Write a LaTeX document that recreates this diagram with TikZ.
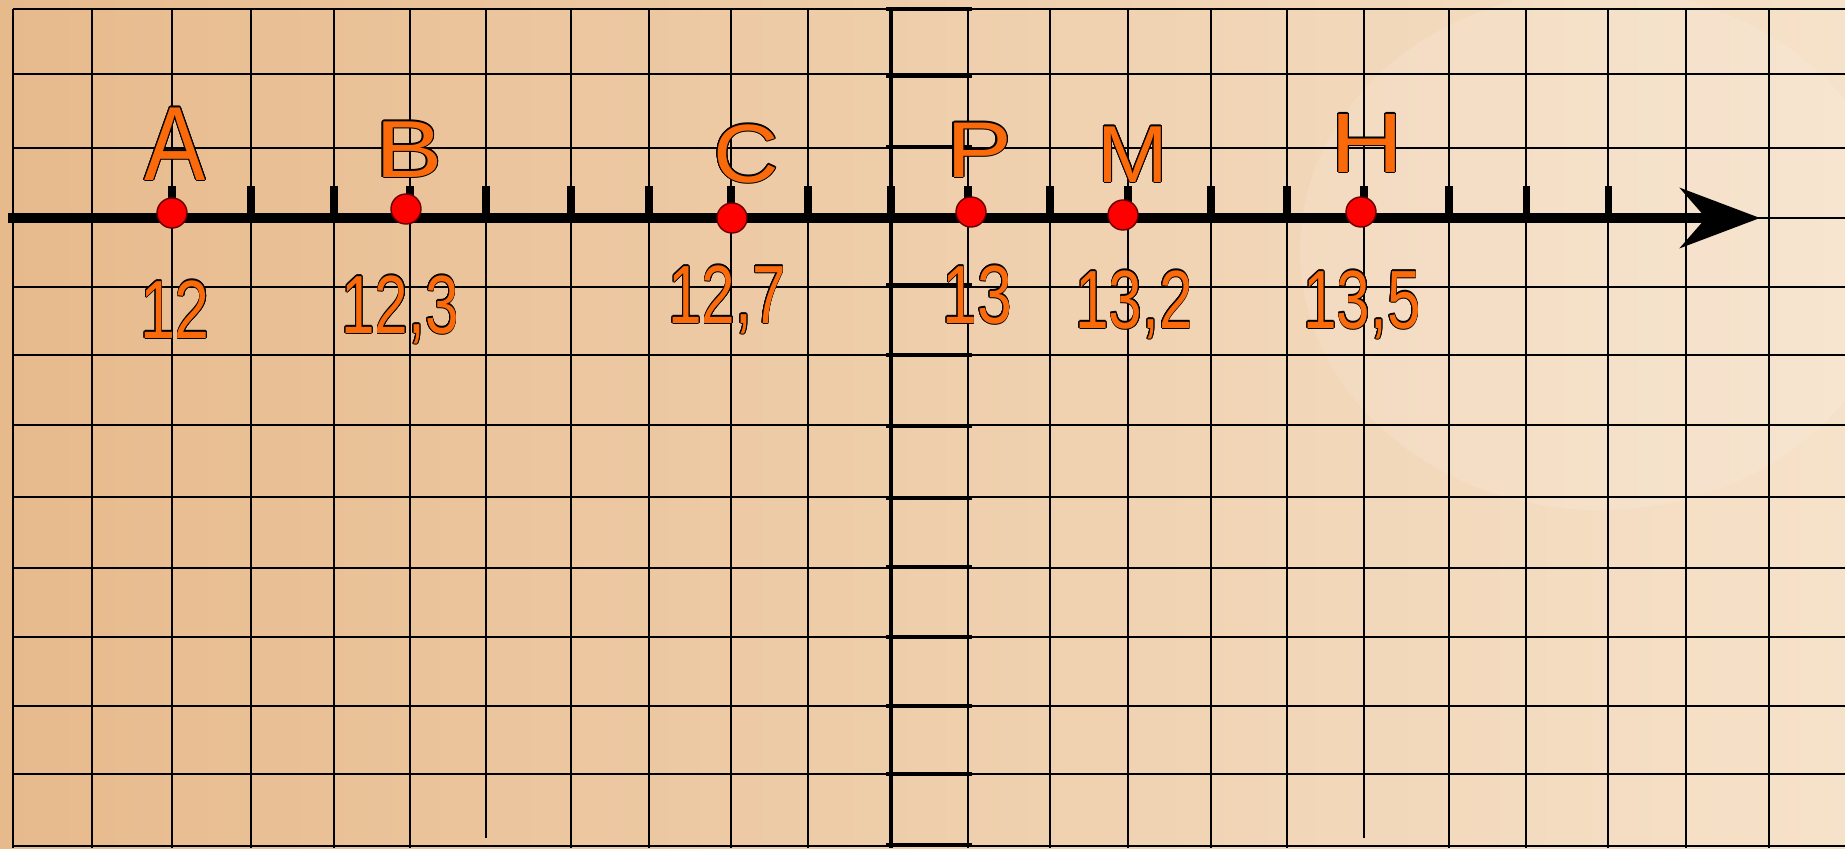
\documentclass[tikz,border=0pt]{standalone}
\usepackage{fontspec}
\setmainfont{Liberation Sans}
\usepackage{graphicx}
\usepackage{contour}
\contourlength{0.3pt}
\usepackage{tikz}
\usetikzlibrary{arrows.meta,positioning,calc}
\definecolor{labelorange}{RGB}{250,105,10}
\definecolor{paperdark}{RGB}{231,186,140}
\definecolor{papermid}{RGB}{238,203,162}
\definecolor{paperlight}{RGB}{246,226,202}
\definecolor{dotred}{RGB}{255,0,0}
\newcommand{\ptlabel}[3]{\scalebox{#2}[1]{\fontsize{#1}{#1}\selectfont\contour{black}{#3}}}

\begin{document}
\begin{tikzpicture}[x=0.01cm, y=-0.01cm,
    gridline/.style={black, line width=0.5pt},
    stripline/.style={black, line width=0.9pt},
    tickmark/.style={black, line width=2pt},
    numaxis/.style={black, line width=2.6pt, -{Stealth[length=8mm, width=6mm, inset=2.6mm]}},
    ptdot/.style={circle, fill=dotred, draw=black!60!red, line width=0.4pt, minimum size=0.3cm, inner sep=0pt},
    ptname/.style={anchor=base, inner sep=0pt, text=labelorange},
    ptvalue/.style={anchor=base, inner sep=0pt, text=labelorange}]
    \useasboundingbox (0,0) rectangle (1845,848);
    \shade[left color=paperdark, middle color=papermid, right color=paperlight] (0,0) rectangle (1845,848);
    \fill[white, opacity=0.12] (1600,250) ellipse (300 and 260);

    \foreach \gx/\gend in {13/848,92/848,172/848,251/848,334/848,410/848,486/838,571/848,649/848,731/848,808/848,891/848,968/848,1050/848,1128/848,1211/848,1287/848,1364/838,1449/848,1526/848,1608/848,1686/848,1769/848}
        \draw[gridline] (\gx,9) -- (\gx,\gend);
    \foreach \gy in {9,74,148,218,287,355,425,497,568,637,706,774,846}
        \draw[gridline] (13,\gy) -- (1845,\gy);

    \draw[stripline] (891,9) -- (891,848);
    \foreach \gy in {9,76,147,285,355,426,498,567,637,706,774,845}
        \draw[stripline] (886,\gy) -- (972,\gy);

    \coordinate (axstart) at (8,218);
    \coordinate (axend) at (1760,218);
    \draw[numaxis] (axstart) -- (axend);
    \foreach \tx in {172,251,334,410,486,571,649,731,808,891,968,1050,1128,1211,1287,1364,1449,1526,1608}
        \draw[tickmark] (\tx,186) -- (\tx,218);

    \node[ptdot] (dotA) at (172,213) {};
    \node[ptdot] (dotB) at (406,209) {};
    \node[ptdot] (dotC) at (732,218) {};
    \node[ptdot] (dotP) at (971,212) {};
    \node[ptdot] (dotM) at (1123,215) {};
    \node[ptdot] (dotH) at (1361,212) {};

    \node[ptname] (nameA) at (175,180) {\ptlabel{30}{0.87}{A}};
    \node[ptname] (nameB) at (409,177) {\ptlabel{23}{1.25}{B}};
    \node[ptname] (nameC) at (746,182) {\ptlabel{23.5}{1.1}{C}};
    \node[ptname] (nameP) at (979,177) {\ptlabel{22.5}{1.25}{P}};
    \node[ptname] (nameM) at (1133,182) {\ptlabel{23}{1.05}{M}};
    \node[ptname] (nameH) at (1367,172) {\ptlabel{24}{1.2}{H}};

    \node[ptvalue] (valA) at (175,338) {\ptlabel{23.5}{0.76}{12}};
    \node[ptvalue] (valB) at (400,333) {\ptlabel{23.5}{0.73}{12,3}};
    \node[ptvalue] (valC) at (727,323) {\ptlabel{23.5}{0.73}{12,7}};
    \node[ptvalue] (valP) at (977,323) {\ptlabel{23.5}{0.76}{13}};
    \node[ptvalue] (valM) at (1134,328) {\ptlabel{23.5}{0.73}{13,2}};
    \node[ptvalue] (valH) at (1362,328) {\ptlabel{23.5}{0.73}{13,5}};
\end{tikzpicture}
\end{document}
